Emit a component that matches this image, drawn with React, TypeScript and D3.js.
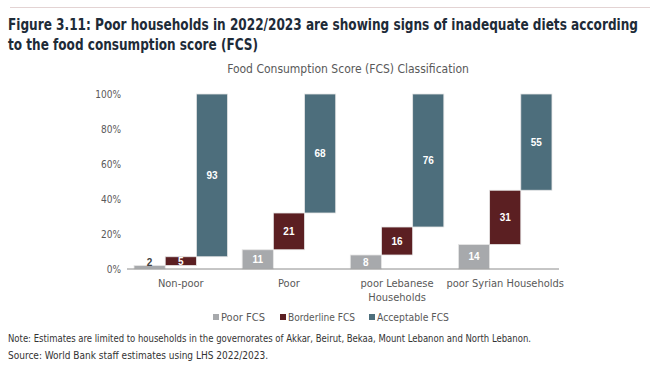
import * as d3 from "d3";

const categories = ["Non-poor", "Poor", "poor Lebanese Households", "poor Syrian Households"];
const categoryLines = [["Non-poor"], ["Poor"], ["poor Lebanese", "Households"], ["poor Syrian Households"]];
const poorFCS = [2, 11, 8, 14];
const borderlineFCS = [5, 21, 16, 31];
const acceptableFCS = [93, 68, 76, 55];
const yTicks = [0, 20, 40, 60, 80, 100];

const seriesNames = ["Poor FCS", "Borderline FCS", "Acceptable FCS"];
const colors = ["#a7a9ac", "#5b1f22", "#4d6e7c"];

const width = 650;
const height = 373;
const margin = { top: 94, left: 127, right: 91, bottom: 104 };
const narrow = "'DejaVu Sans Condensed', 'Liberation Sans Narrow', sans-serif";
const titleScale = 0.8;

export default function App() {
  const innerW = width - margin.left - margin.right;
  const innerH = height - margin.top - margin.bottom;

  const x = d3.scaleBand().domain(categories).range([0, innerW]).paddingInner(0.135).paddingOuter(0.065);
  const sub = d3.scaleBand().domain(seriesNames).range([0, x.bandwidth()]);
  const y = d3.scaleLinear().domain([0, 100]).range([innerH, 0]);

  // floating bars: each segment starts where the previous ended
  const bars = categories.flatMap((c, i) => {
    const vals = [poorFCS[i], borderlineFCS[i], acceptableFCS[i]];
    let base = 0;
    return vals.map((v, j) => {
      const b = { cat: c, series: seriesNames[j], v, y0: base, y1: base + v, color: colors[j] };
      base += v;
      return b;
    });
  });

  const legend = [
    { x: 213, len: 44 },
    { x: 280, len: 67 },
    { x: 369, len: 72 },
  ];

  return (
    <svg width={width} height={height} style={{ position: "absolute", left: 0, top: 0, background: "#fff" }}>
      <line x1={10} x2={650} y1={7.5} y2={7.5} stroke="#e3d3d3" strokeWidth={1} />
      <g
        transform={`translate(8,0) scale(${titleScale},1)`}
        fontFamily={narrow}
        fontWeight="bold"
        fontSize={16.5}
        fill="#1e2b38"
      >
        <text x={0} y={30} textLength={630 / titleScale} lengthAdjust="spacingAndGlyphs">
          Figure 3.11: Poor households in 2022/2023 are showing signs of inadequate diets according
        </text>
        <text x={0} y={50} textLength={250 / titleScale} lengthAdjust="spacingAndGlyphs">
          to the food consumption score (FCS)
        </text>
      </g>
      <text x={348} y={73} textAnchor="middle" fontFamily={narrow} fontSize={12} fill="#595959">
        Food Consumption Score (FCS) Classification
      </text>
      <g transform={`translate(${margin.left},${margin.top})`} fontFamily={narrow}>
        {yTicks.map((t) => (
          <text key={t} x={-6} y={y(t)} dy="0.35em" textAnchor="end" fontSize={10} fill="#595959">
            {t}%
          </text>
        ))}
        {bars.map((b, i) => {
          const bx = (x(b.cat) ?? 0) + (sub(b.series) ?? 0);
          const top = y(b.y1);
          const h = y(b.y0) - y(b.y1);
          const cy = top + h / 2;
          const outside = h < 10 && b.series === "Poor FCS";
          return (
            <g key={i}>
              <rect x={bx} y={top} width={sub.bandwidth()} height={h} fill={b.color} stroke="#e6e6e6" strokeWidth={0.8} />
              <text
                x={bx + sub.bandwidth() / 2}
                y={outside ? top - 3 : cy}
                dy="0.35em"
                textAnchor="middle"
                fontSize={10}
                fontWeight="bold"
                fontFamily="Arial, 'Liberation Sans', sans-serif"
                fill={outside ? "#404040" : "#fff"}
              >
                {b.v}
              </text>
            </g>
          );
        })}
        <line x1={0} x2={innerW} y1={innerH} y2={innerH} stroke="#8c8c8c" strokeWidth={1} />
        {categories.map((c, i) => (
          <text key={c} x={(x(c) ?? 0) + x.bandwidth() / 2} y={innerH + 18} textAnchor="middle" fontSize={11} fill="#595959">
            {categoryLines[i].map((l, k) => (
              <tspan key={k} x={(x(c) ?? 0) + x.bandwidth() / 2} dy={k === 0 ? 0 : 13.5}>
                {l}
              </tspan>
            ))}
          </text>
        ))}
      </g>
      <g fontFamily={narrow} fontSize={11} fill="#595959">
        {seriesNames.map((name, i) => (
          <g key={name}>
            <rect x={legend[i].x} y={314} width={6} height={6} fill={colors[i]} />
            <text x={legend[i].x + 8} y={321} textLength={legend[i].len} lengthAdjust="spacingAndGlyphs">
              {name}
            </text>
          </g>
        ))}
      </g>
      <g fontFamily={narrow} fontSize={10} fill="#333">
        <text x={8} y={342} textLength={523} lengthAdjust="spacingAndGlyphs">
          Note: Estimates are limited to households in the governorates of Akkar, Beirut, Bekaa, Mount Lebanon and North Lebanon.
        </text>
        <text x={8} y={359} textLength={260} lengthAdjust="spacingAndGlyphs">
          Source: World Bank staff estimates using LHS 2022/2023.
        </text>
      </g>
    </svg>
  );
}
